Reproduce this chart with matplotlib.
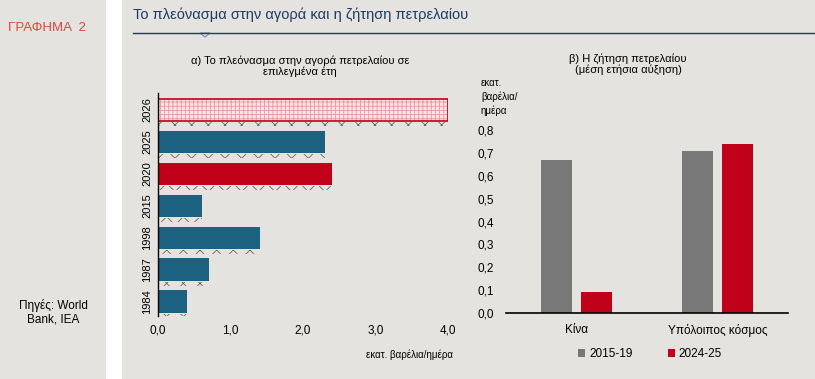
import matplotlib.pyplot as plt
from matplotlib.patches import Rectangle, Polygon
from matplotlib.lines import Line2D

plt.rcParams['font.family'] = ['Liberation Sans', 'DejaVu Sans']
plt.rcParams['hatch.linewidth'] = 0.6

# Δεδομένα
years = ['2026', '2025', '2020', '2015', '1998', '1987', '1984']
surplus = [4.0, 2.3, 2.4, 0.6, 1.4, 0.7, 0.4]
surplus_colors = ['forecast', 'blue', 'red', 'blue', 'blue', 'blue', 'blue']
x_ticks = [0, 1, 2, 3, 4]

regions = ['Κίνα', 'Υπόλοιπος κόσμος']
demand_1519 = [0.67, 0.71]
demand_2425 = [0.09, 0.74]
y_ticks = [0.0, 0.1, 0.2, 0.3, 0.4, 0.5, 0.6, 0.7, 0.8]

BG = '#e4e3df'
BLUE = '#1d6180'
RED = '#c00018'
GREY = '#787878'
NAVY = '#1f3864'

W, H = 815, 379
fig = plt.figure(figsize=(W / 100, H / 100), dpi=100)
fig.patch.set_facecolor('white')

def fx(px):
    return px / W

def fy(py):
    return 1 - py / H

# Φόντα
fig.add_artist(Rectangle((0, 0), fx(106), 1, transform=fig.transFigure,
                         facecolor=BG, edgecolor='none', zorder=-10))
fig.add_artist(Rectangle((fx(122), 0), 1 - fx(122), 1, transform=fig.transFigure,
                         facecolor=BG, edgecolor='none', zorder=-10))

fig.text(fx(8), fy(28), 'ΓΡΑΦΗΜΑ  2', color='#e0463c', fontsize=9.5, va='center')
fig.text(fx(53), fy(312), 'Πηγές: World\nBank, IEA', color='black', fontsize=8.5,
         ha='center', va='center', linespacing=1.2)

fig.text(fx(133), fy(15), 'Το πλεόνασμα στην αγορά και η ζήτηση πετρελαίου',
         color=NAVY, fontsize=10.5, va='center')
fig.add_artist(Line2D([fx(133), fx(815)], [fy(33), fy(33)], transform=fig.transFigure,
                      color=NAVY, lw=1))
fig.add_artist(Polygon([[fx(200), fy(33)], [fx(210), fy(33)], [fx(205), fy(37)]],
                       transform=fig.transFigure, facecolor=BG, edgecolor='#7f8aa0', lw=0.8))

# α) πλεόνασμα
ax1 = fig.add_axes([fx(158), fy(316), fx(448 - 158), (316 - 93) / H])
ax1.set_facecolor('none')
pos = list(range(len(years)))
for i, (v, c) in enumerate(zip(surplus, surplus_colors)):
    if c == 'forecast':
        ax1.barh(i, v, height=0.7, color='#f6e4e6', hatch='++++', edgecolor='#e39aa1', lw=0)
        ax1.barh(i, v, height=0.7, fill=False, edgecolor=RED, lw=1.2)
    else:
        ax1.barh(i, v, height=0.7, color=BLUE if c == 'blue' else RED, edgecolor='none')
    # λωρίδα μοτίβου κάτω από τη μπάρα
    ax1.barh(i + 0.44, v, height=0.12, fill=False, hatch='xx', edgecolor='#666666', lw=0)
ax1.set_ylim(6.45, -0.53)
ax1.set_xlim(0, 4)
ax1.set_yticks(pos)
ax1.set_yticklabels(years, rotation=90, va='center', fontsize=8)
ax1.set_xticks(x_ticks)
ax1.set_xticklabels([f'{t:.1f}'.replace('.', ',') for t in x_ticks], fontsize=8.5)
ax1.tick_params(length=0, pad=4)
ax1.tick_params(axis='x', pad=6)
for s in ['top', 'right', 'bottom']:
    ax1.spines[s].set_visible(False)
ax1.spines['left'].set_linewidth(1)
fig.text(fx(300), fy(66), 'α) Το πλεόνασμα στην αγορά πετρελαίου σε\nεπιλεγμένα έτη',
         ha='center', va='center', fontsize=8, linespacing=1.1)
fig.text(fx(453), fy(355), 'εκατ. βαρέλια/ημέρα', ha='right', va='center', fontsize=7)

# β) ζήτηση
ax2 = fig.add_axes([fx(506), fy(313), fx(788 - 506), (313 - 130) / H])
ax2.set_facecolor('none')
xs = list(range(len(regions)))
ax2.bar([x - 0.142 for x in xs], demand_1519, width=0.22, color=GREY, label='2015-19')
ax2.bar([x + 0.142 for x in xs], demand_2425, width=0.22, color=RED, label='2024-25')
ax2.set_xlim(-0.5, 1.5)
ax2.set_ylim(0, 0.8)
ax2.set_yticks(y_ticks)
ax2.set_yticklabels([f'{t:.1f}'.replace('.', ',') for t in y_ticks], fontsize=8.5)
ax2.set_xticks(xs)
ax2.set_xticklabels(regions, fontsize=8.5)
ax2.tick_params(length=0)
ax2.tick_params(axis='y', pad=9)
ax2.tick_params(axis='x', pad=8)
for s in ['top', 'right', 'left']:
    ax2.spines[s].set_visible(False)
ax2.spines['bottom'].set_linewidth(1.2)
fig.text(fx(628), fy(64), 'β) Η ζήτηση πετρελαίου\n(μέση ετήσια αύξηση)',
         ha='center', va='center', fontsize=8, linespacing=1.1)
fig.text(fx(481), fy(97), 'εκατ.\nβαρέλια/\nημέρα', ha='left', va='center', fontsize=7,
         linespacing=1.4)
fig.legend(loc='center', bbox_to_anchor=(fx(650), fy(354)), ncol=2, frameon=False,
           fontsize=8.5, handlelength=0.6, handleheight=0.6, handletextpad=0.3,
           columnspacing=3)

fig.savefig('out.png', dpi=100, facecolor=fig.get_facecolor())
